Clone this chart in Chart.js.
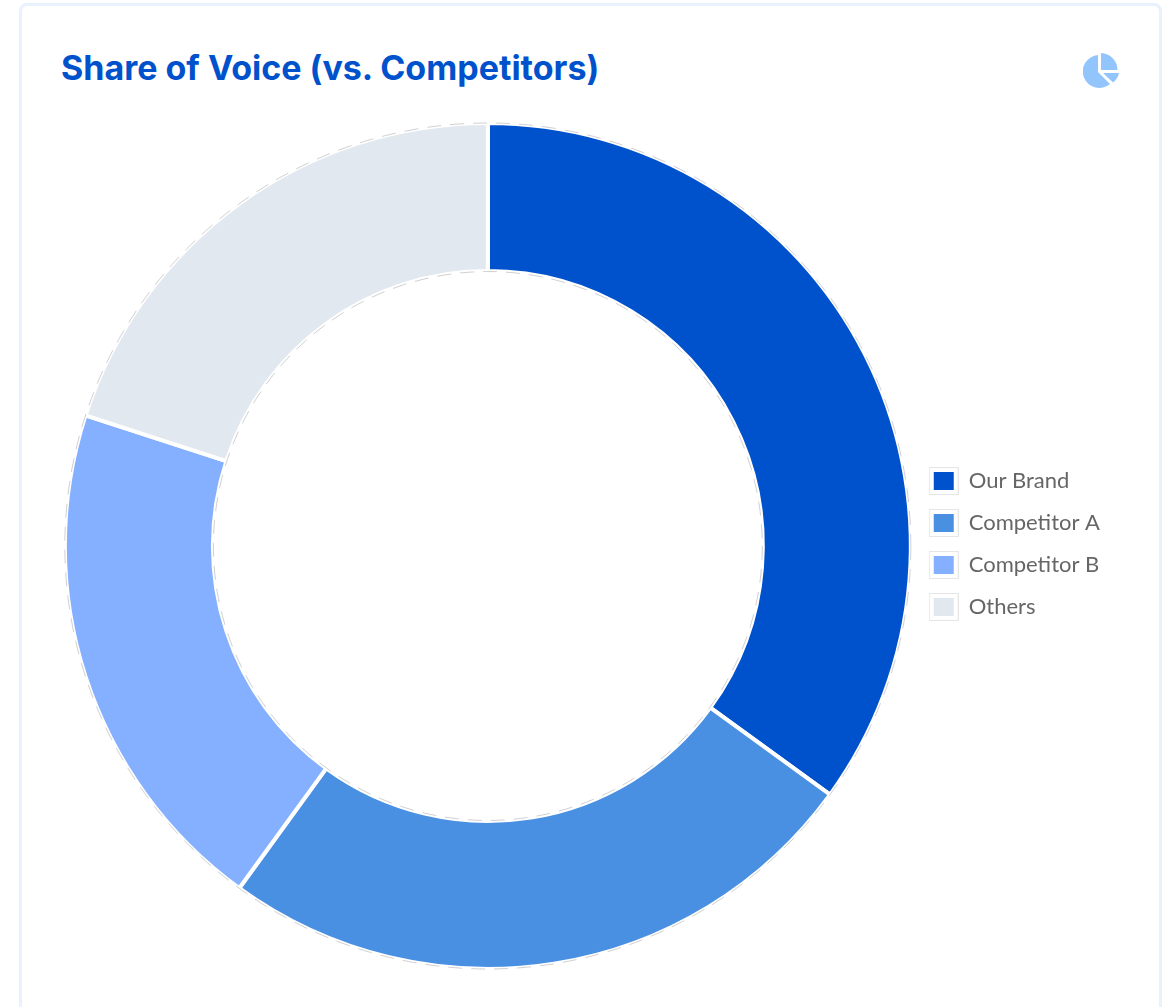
<!DOCTYPE html>
<html>
<head>
<meta charset="utf-8">
<title>Share of Voice</title>
<script src="https://cdn.jsdelivr.net/npm/chart.js@4"></script>
<style>
  html, body { margin: 0; padding: 0; background: #fff; }
  .card {
    position: absolute; left: 19px; top: 3px; width: 1137px; height: 1040px;
    border: 3px solid #e8f1fd; border-radius: 8px; background: #fff;
  }
  h2 {
    position: absolute; left: 61px; top: 47px; margin: 0;
    font: 700 34px/42px Inter, sans-serif; color: #0052cc;
    white-space: nowrap;
  }
  .icon { position: absolute; left: 1083px; top: 53px; width: 36px; height: 36px; }
  .wrap { position: absolute; left: 57px; top: 121px; width: 1062px; height: 850px; }
</style>
</head>
<body>
<div class="card"></div>
<h2>Share of Voice (vs. Competitors)</h2>
<svg class="icon" viewBox="0 0 36 36">
  <path d="M15 2 A16.500 16.500 0 1 0 27 31 L15 19 Z" fill="#93c5fd"/>
  <path d="M18 0 A17 17 0 0 1 34.500 17 L18 17 Z" fill="#93c5fd"/>
  <path d="M20 20 L36 20 A16 16 0 0 1 30 29.500 Z" fill="#93c5fd"/>
</svg>
<div class="wrap"><canvas id="sovChart"></canvas></div>

<script>
// share of voice, in percent
const brands = ['Our Brand', 'Competitor A', 'Competitor B', 'Others'];
const shares = [35, 25, 20, 20];
const colors = ['#0052cc', '#4a90e2', '#84b0ff', '#e1e8f0'];

// legend swatch: coloured square inside a thin framed white box
function swatch(color) {
    const c = document.createElement('canvas');
    c.width = 30;
    c.height = 28;
    const g = c.getContext('2d');
    g.fillStyle = '#fff';
    g.fillRect(0, 0, 30, 28);
    g.strokeStyle = '#e6e6e6';
    g.lineWidth = 1;
    g.strokeRect(0.5, 0.5, 29, 27);
    g.fillStyle = color;
    g.fillRect(5, 5, 20, 18);
    return c;
}

// nudge the legend closer to the ring, it keeps its size
const legendNudge = {
    id: 'legendNudge',
    afterLayout: function (chart) {
        const l = chart.legend;
        l.left -= 9;
        l.right -= 9;
        l.top -= 2;
        l.bottom -= 2;
    }
};

// faint dashed circles just off both edges of the ring
const ringDashes = {
    id: 'ringDashes',
    afterDatasetsDraw: function (chart) {
        const arc = chart.getDatasetMeta(0).data[0];
        const g = chart.ctx;
        g.save();
        g.strokeStyle = 'rgba(120, 120, 120, 0.35)';
        g.lineWidth = 1;
        g.setLineDash([14, 9]);
        [arc.outerRadius, arc.innerRadius - 0.5].forEach(function (r) {
            g.beginPath();
            g.arc(arc.x, arc.y, r, 0, Math.PI * 2);
            g.stroke();
        });
        g.restore();
    }
};

const ctx = document.getElementById('sovChart');

new Chart(ctx, {
    type: 'doughnut',
    data: {
        labels: brands,
        datasets: [{
            data: shares,
            backgroundColor: colors,
            borderColor: '#fff',
            borderWidth: 4,
            hoverOffset: 0
        }]
    },
    plugins: [legendNudge, ringDashes],
    options: {
        responsive: true,
        maintainAspectRatio: false,
        animation: false,
        cutout: '65%',
        plugins: {
            tooltip: { enabled: false },
            legend: {
                position: 'right',
                labels: {
                    usePointStyle: true,
                    pointStyleWidth: 28,
                    boxHeight: 22,
                    padding: 20,
                    color: '#666',
                    font: { family: 'Lato', size: 22 },
                    generateLabels: function (chart) {
                        return brands.map(function (name, i) {
                            return {
                                text: name,
                                pointStyle: swatch(colors[i]),
                                fontColor: '#666',
                                lineWidth: 0,
                                index: i
                            };
                        });
                    }
                }
            }
        }
    }
});
</script>
</body>
</html>
